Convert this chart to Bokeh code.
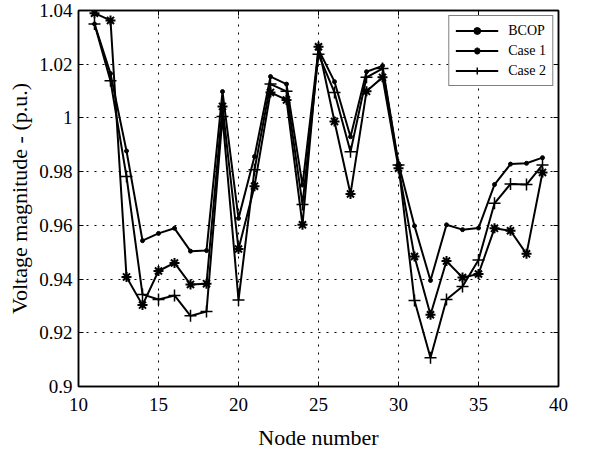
from bokeh.plotting import figure
from bokeh.models import FixedTicker, LinearAxis, Legend, LegendItem, Range1d
from bokeh.embed import file_html
from bokeh.resources import INLINE

nodes = list(range(11, 40))
bcop = [1.035, 1.0165, 0.9877, 0.9543, 0.957, 0.9589, 0.9504, 0.9506, 1.0098, 0.9626,
        0.9856, 1.0154, 1.0126, 0.975, 1.0255, 1.0135, 0.993, 1.0172, 1.0194, 0.983,
        0.9598, 0.9395, 0.9602, 0.9584, 0.959, 0.9752, 0.9828, 0.9831, 0.9852]
case1 = [1.039, 1.0363, 0.9408, 0.9303, 0.943, 0.946, 0.938, 0.9383, 1.0043, 0.9512,
         0.9746, 1.0095, 1.0067, 0.9602, 1.0265, 0.9987, 0.9717, 1.0099, 1.0151, 0.9813,
         0.9484, 0.9267, 0.9467, 0.9406, 0.9419, 0.9589, 0.958, 0.9494, 0.9797]
case2 = [1.035, 1.0138, 0.9782, 0.9343, 0.9324, 0.9339, 0.9263, 0.9279, 1.0005, 0.9322,
         0.9807, 1.0126, 1.0099, 0.9678, 1.0237, 1.0095, 0.9874, 1.0151, 1.0184, 0.9825,
         0.932, 0.9107, 0.9324, 0.9372, 0.9471, 0.9682, 0.9754, 0.9752, 0.9825]
x_ticks = [10, 15, 20, 25, 30, 35, 40]
y_ticks = [0.9, 0.92, 0.94, 0.96, 0.98, 1.0, 1.02, 1.04]
y_labels = ["0.9", "0.92", "0.94", "0.96", "0.98", "1", "1.02", "1.04"]

FONT = "Liberation Serif"

p = figure(width=575, height=446, output_backend="svg", toolbar_location=None,
           x_range=Range1d(10, 40), y_range=Range1d(0.9, 1.04),
           min_border_left=78, min_border_top=10, min_border_right=17, min_border_bottom=60)
p.frame_width = 480
p.frame_height = 376

p.outline_line_color = "black"
p.outline_line_width = 1.5
p.outline_line_alpha = 1.0

p.xaxis.ticker = FixedTicker(ticks=x_ticks)
p.yaxis.ticker = FixedTicker(ticks=y_ticks)
p.yaxis.major_label_overrides = {t: l for t, l in zip(y_ticks, y_labels)}
p.xaxis.axis_label = "Node number"
p.yaxis.axis_label = "Voltage magnitude - (p.u.)"

for ax in (p.xaxis[0], p.yaxis[0]):
    ax.major_label_text_font = FONT
    ax.major_label_text_font_size = "19px"
    ax.major_label_text_color = "black"
    ax.axis_label_text_font = FONT
    ax.axis_label_text_font_size = "22px"
    ax.axis_label_text_font_style = "normal"
    ax.axis_label_text_color = "black"
    ax.major_tick_in = 5
    ax.major_tick_out = 0
    ax.minor_tick_in = 0
    ax.minor_tick_out = 0
    ax.axis_line_color = "black"
    ax.axis_line_width = 1.5
    ax.major_tick_line_color = "black"
p.xaxis.major_label_standoff = 11
p.yaxis.major_label_standoff = 6
p.xaxis.axis_label_standoff = 11
p.yaxis.axis_label_standoff = 4

for loc, tick in (("right", y_ticks), ("above", x_ticks)):
    ax = LinearAxis(ticker=FixedTicker(ticks=tick),
                    major_label_overrides={t: "" for t in tick},
                    major_tick_in=5, major_tick_out=0, minor_tick_in=0, minor_tick_out=0,
                    axis_line_color="black", axis_line_width=1.5, major_label_standoff=0)
    p.add_layout(ax, loc)

for g, tk in ((p.xgrid[0], x_ticks), (p.ygrid[0], y_ticks)):
    g.ticker = FixedTicker(ticks=tk)
    g.grid_line_color = "black"
    g.grid_line_dash = "2 6"
    g.grid_line_width = 1

LW = 2
l1 = p.line(nodes, bcop, line_color="black", line_width=LW)
m1 = p.scatter(nodes, bcop, marker="circle", size=4, fill_color="black", line_color="black")
l2 = p.line(nodes, case1, line_color="black", line_width=LW)
m2 = p.scatter(nodes, case1, marker="asterisk", size=10, line_color="black", line_width=2)
l3 = p.line(nodes, case2, line_color="black", line_width=LW)
m3 = p.scatter(nodes, case2, marker="cross", size=12, line_color="black", line_width=1.5)

legend = Legend(items=[
    LegendItem(label="BCOP", renderers=[l1, m1]),
    LegendItem(label="Case 1", renderers=[l2, m2]),
    LegendItem(label="Case 2", renderers=[l3, m3]),
], location="top_right")
legend.label_text_font = FONT
legend.label_text_font_size = "14px"
legend.label_text_color = "black"
legend.border_line_color = "black"
legend.border_line_width = 1.5
legend.glyph_width = 43
legend.glyph_height = 17
legend.label_height = 17
legend.spacing = 3
legend.padding = 6
legend.margin = 5
legend.label_standoff = 10
legend.background_fill_alpha = 1.0
p.add_layout(legend)

open("out.html", "w").write(file_html(p, INLINE))
